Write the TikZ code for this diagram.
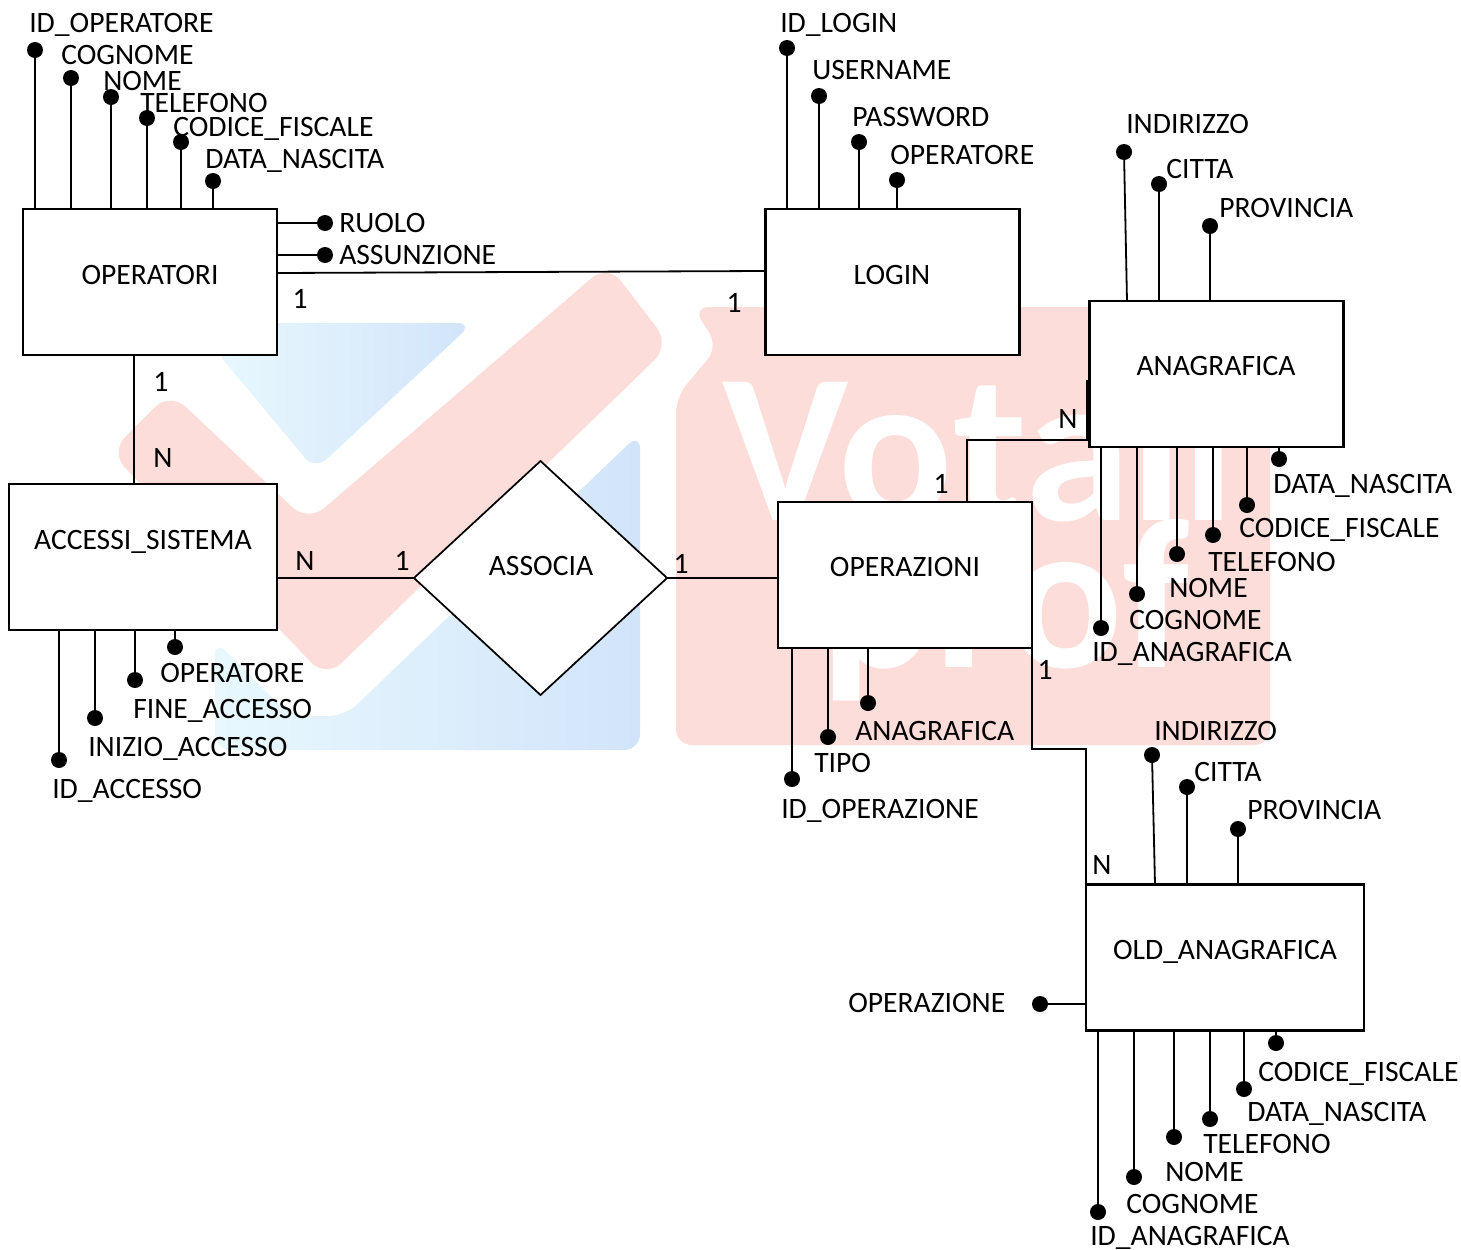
\documentclass[tikz,border=0pt]{standalone}
\usepackage{fontspec}
\setmainfont{Carlito}
\usetikzlibrary{shapes.geometric}
\definecolor{markred}{HTML}{FCDDDA}
\definecolor{bluelight}{HTML}{E8F8FE}
\definecolor{bluedark}{HTML}{D2E4FA}
\tikzstyle{every node} = [font=\fontsize{22.2}{26}\selectfont]
\tikzstyle{entity} = [draw, fill=white, line width=1.6pt, minimum width=190.5pt, minimum height=109.5pt, inner sep=0pt, outer sep=0pt]
\tikzstyle{relation} = [draw, fill=white, line width=1.3pt, shape=diamond, aspect=1.08, minimum width=189.8pt, minimum height=175.5pt, inner sep=0pt, outer sep=0pt]
\tikzstyle{boxtext} = [anchor=base, yshift=-6.9pt, inner sep=0pt]
\tikzstyle{attrdot} = [circle, fill=black, minimum size=12pt, inner sep=0pt, outer sep=0pt]
\tikzstyle{attrtext} = [anchor=base west, yshift=-6.9pt, inner sep=0pt]
\tikzstyle{card} = [inner sep=0pt]
\tikzstyle{link} = [line width=1.35pt]
\tikzstyle{markword} = [white, font=\fontsize{160}{160}\selectfont\bfseries, anchor=base west, inner sep=0pt]

\begin{document}
\begin{tikzpicture}[x=0.75pt, y=-0.75pt]
    \useasboundingbox (0,0) rectangle (1461,1250);

    % watermark
    \fill[markred, rounded corners=12pt] (693,307) -- (1270,307) -- (1270,745) -- (676,745) -- (676,397) -- (718,347) -- cycle;
    \shade[left color=bluelight, right color=bluedark, rounded corners=12pt] (215,323) -- (473,323) -- (315,470) -- (215,350) -- cycle;
    \shade[left color=bluelight, right color=bluedark, rounded corners=12pt] (640,433) -- (640,750) -- (215,750) -- (215,640) -- (290,716) -- (345,716) -- cycle;
    \fill[markred, rounded corners=16pt] (170,392) -- (308,522) -- (608,264) -- (670,345) -- (326,678) -- (110,452) -- cycle;
    \node[markword] (markvota) at (722,520) {Vota};
    \node[markword] (markil) at (1130,520) {il};
    \node[markword] (markprof) at (820,667) {prof};

    % entities
    \node[entity] (operatori) at (150,282) {};
    \node[entity] (login) at (892.5,282) {};
    \node[entity] (anagrafica) at (1216.5,374) {};
    \node[entity, minimum width=201pt] (accessi) at (143,557) {};
    \node[entity] (operazioni) at (905,575) {};
    \node[entity, minimum width=208.5pt] (oldanag) at (1225,957.5) {};
    \node[relation] (associa) at (540.5,578) {};

    \node[boxtext] (operatoritxt) at (150,275) {OPERATORI};
    \node[boxtext] (logintxt) at (892,275) {LOGIN};
    \node[boxtext] (anagraficatxt) at (1216,366) {ANAGRAFICA};
    \node[boxtext] (accessitxt) at (143,540) {ACCESSI\_SISTEMA};
    \node[boxtext] (operazionitxt) at (905,567) {OPERAZIONI};
    \node[boxtext] (oldanagtxt) at (1225,950) {OLD\_ANAGRAFICA};
    \node[boxtext] (associatxt) at (541,566) {ASSOCIA};

    % attributes above a box
    \foreach \n/\x/\y/\lx/\ly/\lab/\ent in {
        oa/35/50/29/23/ID\_OPERATORE/operatori,
        ob/71/78/61/55/COGNOME/operatori,
        oc/111/97/103/81/NOME/operatori,
        od/147/118/140/103/TELEFONO/operatori,
        oe/181/142/173/127/CODICE\_FISCALE/operatori,
        of/213/181/205/159/DATA\_NASCITA/operatori,
        la/787/48/780/23/ID\_LOGIN/login,
        lb/819/96/812/70/USERNAME/login,
        lc/859/142/852/117/PASSWORD/login,
        ld/897/180/890/155/OPERATORE/login,
        ab/1159/184/1166/169/CITTA/anagrafica,
        ac/1210/226/1219/208/PROVINCIA/anagrafica,
        nb/1187/787/1194/772/CITTA/oldanag,
        nc/1238/829/1247/810/PROVINCIA/oldanag} {
        \node[attrdot] (\n) at (\x,\y) {};
        \node[attrtext] (\n-txt) at (\lx,\ly) {\lab};
        \draw[link] (\n) -- (\n |- \ent.north);
    }

    % attributes below a box
    \foreach \n/\x/\y/\lx/\ly/\lab/\ent in {
        ad/1279/459/1273/484/DATA\_NASCITA/anagrafica,
        ae/1247/505/1239/528/CODICE\_FISCALE/anagrafica,
        af/1213/535/1208/562/TELEFONO/anagrafica,
        ag/1177/554/1169/588/NOME/anagrafica,
        ah/1137/594/1129/620/COGNOME/anagrafica,
        ai/1101/628/1092/652/ID\_ANAGRAFICA/anagrafica,
        sa/175/647/160/673/OPERATORE/accessi,
        sb/135/680/133/709/FINE\_ACCESSO/accessi,
        sc/95/718/88/747/INIZIO\_ACCESSO/accessi,
        sd/59/760/52/789/ID\_ACCESSO/accessi,
        za/868/703/855/731/ANAGRAFICA/operazioni,
        zb/828/737/814/763/TIPO/operazioni,
        zc/792/779/781/809/ID\_OPERAZIONE/operazioni,
        nd/1276/1043/1258/1072/CODICE\_FISCALE/oldanag,
        ne/1244/1089/1247/1112/DATA\_NASCITA/oldanag,
        nf/1210/1119/1203/1144/TELEFONO/oldanag,
        ng/1174/1137/1165/1172/NOME/oldanag,
        nh/1134/1177/1126/1204/COGNOME/oldanag,
        ni/1098/1212/1090/1236/ID\_ANAGRAFICA/oldanag} {
        \node[attrdot] (\n) at (\x,\y) {};
        \node[attrtext] (\n-txt) at (\lx,\ly) {\lab};
        \draw[link] (\n) -- (\n |- \ent.south);
    }

    % attributes on a side, and the two leaning ones
    \node[attrdot] (oruolo) at (325,223) {};
    \node[attrtext] (oruolotxt) at (339,223) {RUOLO};
    \node[attrdot] (oassun) at (325,255) {};
    \node[attrtext] (oassuntxt) at (339,255) {ASSUNZIONE};
    \node[attrdot] (noper) at (1040,1004) {};
    \node[attrtext] (nopertxt) at (848,1003) {OPERAZIONE};
    \node[attrdot] (aind) at (1124,152) {};
    \node[attrtext] (aindtxt) at (1126,124) {INDIRIZZO};
    \node[attrdot] (nind) at (1152,755) {};
    \node[attrtext] (nindtxt) at (1154,731) {INDIRIZZO};
    \coordinate (aindfoot) at (1127,301);
    \coordinate (nindfoot) at (1155,884);
    \draw[link] (oruolo) -- (oruolo -| operatori.east);
    \draw[link] (oassun) -- (oassun -| operatori.east);
    \draw[link] (noper) -- (noper -| oldanag.west);
    \draw[link] (aind) -- (aindfoot);
    \draw[link] (nind) -- (nindfoot);

    % relations
    \coordinate (oplogin) at (277,273);
    \coordinate (loginop) at (765,271);
    \draw[link] (oplogin) -- (loginop);
    \coordinate (opacc) at (134,355);
    \draw[link] (opacc) -- (opacc |- accessi.north);
    \draw[link] (accessi.east |- associa.west) -- (associa.west);
    \draw[link] (associa.east) -- (associa.east -| operazioni.west);
    \coordinate (zup) at (967,440);
    \coordinate (zend) at (1087,380);
    \draw[link] (zup |- operazioni.north) -- (zup) -- (zend |- zup) -- (zend);
    \coordinate (zdown) at (1032,749);
    \coordinate (zold) at (1086,749);
    \draw[link] (operazioni.south east) -- (zdown) -- (zold) -- (zold |- oldanag.north);

    % cardinalities
    \node[card] (c1) at (300,299) {1};
    \node[card] (c2) at (734,303) {1};
    \node[card] (c3) at (161,382) {1};
    \node[card] (c4) at (163,458) {N};
    \node[card] (c5) at (305,561) {N};
    \node[card] (c6) at (402,561) {1};
    \node[card] (c7) at (681,564) {1};
    \node[card] (c8) at (1068,419) {N};
    \node[card] (c9) at (941,484) {1};
    \node[card] (c10) at (1045,670) {1};
    \node[card] (c11) at (1102,865) {N};
\end{tikzpicture}
\end{document}
